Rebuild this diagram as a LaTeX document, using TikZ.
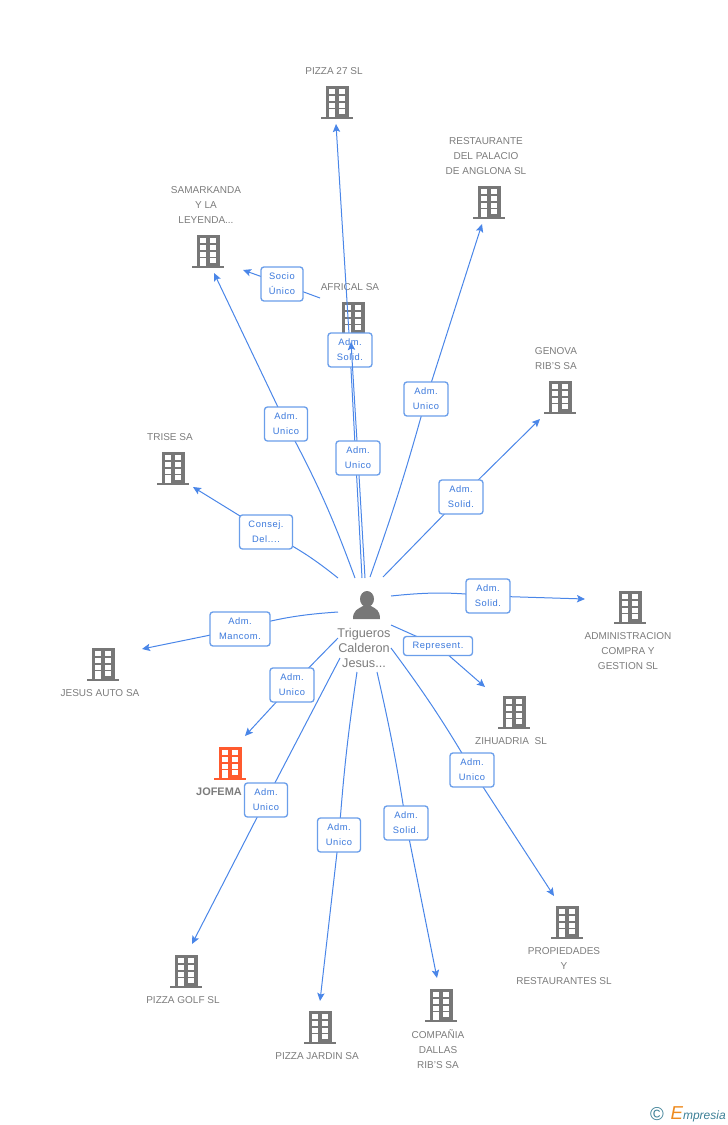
\documentclass[tikz,border=0pt]{standalone}
\usepackage{fontspec}
\setmainfont{Liberation Sans}
\newfontfamily\boxfont[LetterSpace=6]{Liberation Sans}
\usetikzlibrary{arrows.meta}
\definecolor{linkblue}{HTML}{4A86E8}
\definecolor{boxline}{HTML}{6A9EEA}
\definecolor{boxtext}{HTML}{3A78DC}
\definecolor{bldggray}{HTML}{777777}
\definecolor{captext}{HTML}{7C7C7C}
\definecolor{bldgred}{HTML}{FF5A2E}
\definecolor{logoteal}{HTML}{3C7F96}
\definecolor{logoorange}{HTML}{EE8A1E}
\tikzset{
  linkline/.style={linkblue,line width=0.75pt},
  linkarrow/.style={linkline,-{Stealth[length=6pt,width=5.5pt,inset=1.2pt]}},
  linkbox/.style={draw=boxline,line width=1pt,fill=white,rounded corners=2.2pt,
    inner sep=0pt,align=center,text=boxtext,font=\boxfont\fontsize{7}{11.25}\selectfont},
  caption/.style={align=center,text=captext,font=\fontsize{7.5}{11.25}\selectfont},
  bldg/.pic={
    \fill[pic actions] (-11.5,-16.5) rectangle (11.5,15);
    \fill[pic actions] (-16,14.5) rectangle (16,16.5);
    \foreach \wy in {-13.5,-6.5,0.5,7} {
      \fill[white] (-8,\wy) rectangle (-2,\wy+5);
      \fill[white] (2,\wy) rectangle (8,\wy+5);
    }
    \fill[white] (-8,7) rectangle (-2,15);
  }
}
\begin{document}
\begin{tikzpicture}[x=0.75pt,y=-0.75pt]
  \useasboundingbox (0,0) rectangle (728,1125);
  % companies
  \foreach \nm/\x/\y/\cx/\cy/\txt in {
    pizzaveintisiete/337/102/334/71/PIZZA 27 SL,
    restaurante/489/202/486/156/RESTAURANTE\\DEL PALACIO\\DE ANGLONA SL,
    samarkanda/208/251/206/205/{SAMARKANDA\\Y LA\\LEYENDA...},
    africal/353/318/350/287/AFRICAL SA,
    genova/560/397/556/358.5/GENOVA\\RIB'S SA,
    trise/173/468/170/437/TRISE SA,
    administracion/630/607/628/651/ADMINISTRACION\\COMPRA Y\\GESTION SL,
    jesusauto/103/664/100/693/JESUS AUTO SA,
    zihuadria/514/712/511/741/ZIHUADRIA\ \ SL,
    pizzagolf/186/971/183/1000/PIZZA GOLF SL,
    pizzajardin/320/1027/317/1056/PIZZA JARDIN SA,
    dallas/441/1005/438/1049/COMPAÑIA\\DALLAS\\RIB'S SA,
    propiedades/567/922/564/966/PROPIEDADES\\Y\\RESTAURANTES SL} {
    \pic[fill=bldggray] (b\nm) at (\x,\y) {bldg};
    \node[caption] (cap\nm) at (\cx,\cy) {\txt};
  }
  \pic[fill=bldgred] (bjofema) at (230,763) {bldg};
  \node[caption,font=\bfseries\fontsize{8.2}{11.25}\selectfont] (capjofema) at (219,792) {JOFEMA};
  % links with their boxes
  \foreach \lbl/\lx/\ly/\lw/\lh/\txt/\sx/\sy/\ex/\ey/\bnd in {
    lsocio/282/284/42/34/Socio\\Único/320/298/243/270/0,
    lpizza/350/350/44/34/Adm.\\Solid./362/578/336/124/0,
    lafrical/358/458/44/34/Adm.\\Unico/365/578/351/342/0,
    lsamarkanda/286/424/43/34/Adm.\\Unico/355/578/214/273/-4,
    lrestaurante/426/399/44/34/Adm.\\Unico/370/577/482/224/-2,
    lgenova/461/497/44/34/Adm.\\Solid./383/577/540/419/0,
    ltrise/266/532/53/34/{Consej.\\Del....}/338/578/193/487/-6,
    ljesus/240/629/60/34/Adm.\\Mancom./338/612/142/649/-6,
    ljofema/292/685/44/34/Adm.\\Unico/338/638/245/736/0,
    lgolf/266/800/43/34/Adm.\\Unico/340/658/192/944/0,
    ljardin/339/835/43/34/Adm.\\Unico/357/672/320/1001/-2,
    ldallas/406/823/44/34/Adm.\\Solid./377/672/437/978/2,
    lpropiedades/472/770/44/34/Adm.\\Unico/391/648/554/896/3,
    lzihuadria/438/646/69/19/Represent./391/625/485/687/0,
    ladmin/488/596/44/34/Adm.\\Solid./391/596/585/599/6} {
    \coordinate (s\lbl) at (\sx,\sy);
    \coordinate (e\lbl) at (\ex,\ey);
    \coordinate (m\lbl) at (\lx,\ly);
    \draw[linkline] (s\lbl) to[bend left=\bnd] (m\lbl);
    \draw[linkarrow] (m\lbl) -- (e\lbl);
    \node[linkbox,minimum width=\lw*0.75pt,minimum height=\lh*0.75pt] (\lbl) at (m\lbl) {\txt};
  }
  % the person in the middle
  \fill[bldggray] (367,599) ellipse (7 and 8);
  \fill[bldggray] (353,619) .. controls (353,610) and (358,609) .. (363,606)
    -- (371,606) .. controls (376,609) and (380,610) .. (380,619) -- cycle;
  \node[caption,font=\fontsize{9.5}{11.25}\selectfont,align=center] (person) at (364,648)
    {Trigueros\\[0pt]Calderon\\[0pt]Jesus...};
  % logo
  \node[text=logoteal,font=\fontsize{14}{14}\selectfont] (copyr) at (657,1114) {©};
  \node[anchor=east,inner sep=0pt,font=\itshape\fontsize{9}{11}\selectfont,text=logoteal] (logo) at (726,1114)
    {\textcolor{logoorange}{\fontsize{14}{11}\selectfont E}mpresia};
\end{tikzpicture}
\end{document}
